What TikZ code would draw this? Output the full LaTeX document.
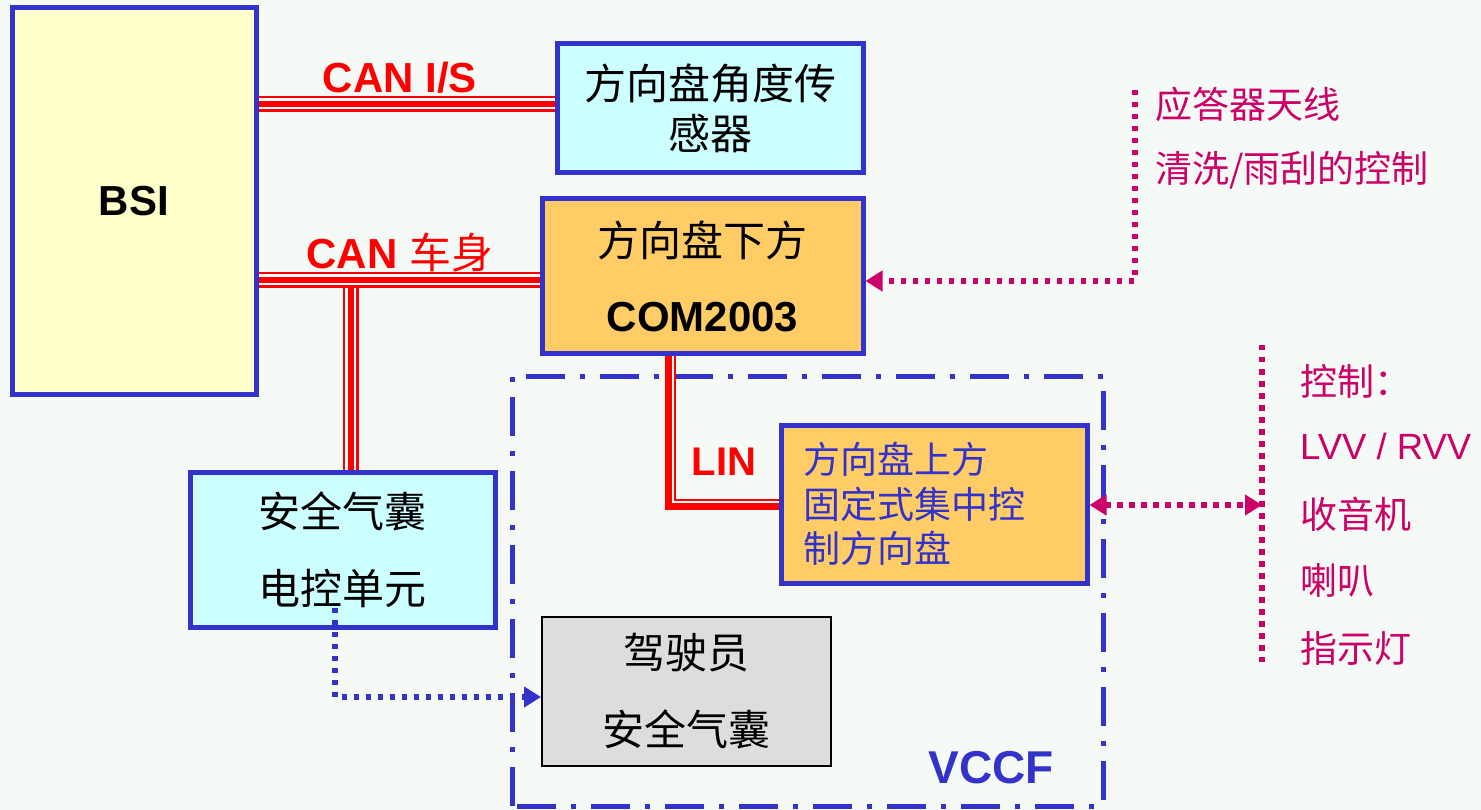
\documentclass[tikz,border=0pt]{standalone}
\usepackage{fontspec}
\setmainfont{Liberation Sans}
\newfontfamily\cjk{Noto Sans CJK SC}
\usetikzlibrary{arrows.meta}
\definecolor{bgc}{HTML}{F6FAF7}
\definecolor{blu}{HTML}{3333CC}
\definecolor{yelc}{HTML}{FFFFCC}
\definecolor{cyc}{HTML}{CCFFFF}
\definecolor{orc}{HTML}{FFCC66}
\definecolor{gryc}{HTML}{DDDDDD}
\definecolor{redc}{HTML}{FF0000}
\definecolor{magc}{HTML}{CC0066}
\newcommand\tribus[1]{\draw[redc,line width=16pt] #1; \draw[white,line width=11pt] #1; \draw[redc,line width=6pt] #1;}
\tikzset{
  boxb/.style={draw=blu, line width=5pt, inner sep=0pt, align=center},
  cjkbig/.style={font=\cjk\fontsize{42}{50}\selectfont},
  magdot/.style={magc, line width=5.5pt, dash pattern=on 5.5pt off 6.5pt},
  bludot/.style={blu, line width=5.5pt, dash pattern=on 5.5pt off 6.5pt},
  tip/.style={-{Triangle[length=17pt,width=20pt]}},
  tips/.style={{Triangle[length=17pt,width=20pt]}-{Triangle[length=17pt,width=20pt]}},
  lbl/.style={anchor=west, magc, inner sep=0pt, font=\cjk\fontsize{37}{40}\selectfont},
}
\begin{document}
\begin{tikzpicture}[x=1pt,y=-1pt]
\fill[bgc] (0,0) rectangle (1481,810);
\useasboundingbox (0,0) rectangle (1481,810);

% boxes
\node[boxb, fill=yelc, minimum width=244, minimum height=386, font=\bfseries\fontsize{42}{50}\selectfont] (bsi) at (134,201) {BSI};
\node[boxb, fill=cyc, minimum width=306, minimum height=129, cjkbig] (sensor) at (710,108.5) {\raisebox{-3pt}{方向盘角度传}\\\raisebox{-3pt}{感器}};
\node[boxb, fill=orc, minimum width=321, minimum height=155, font=\cjk\fontsize{42}{75}\selectfont] (com) at (702.5,276.5) {方向盘下方\\{\rmfamily\bfseries COM2003}};
\node[boxb, fill=cyc, minimum width=305, minimum height=155, font=\cjk\fontsize{42}{77}\selectfont] (ecu) at (342.5,549.5) {安全气囊\\电控单元};
\node[draw=black, line width=2pt, fill=gryc, inner sep=0pt, align=center, minimum width=289, minimum height=149, font=\cjk\fontsize{42}{77}\selectfont] (drv) at (686.5,691.5) {驾驶员\\安全气囊};
\node[boxb, fill=orc, minimum width=306, minimum height=158, inner xsep=0pt, text width=262, align=left, text=blu, font=\cjk\fontsize{37}{44.5}\selectfont] (upper) at (934,504) {方向盘上方\\固定式集中控\\制方向盘};

% VCCF region
\draw[blu, line width=5pt, dash pattern=on 39pt off 15pt on 5pt off 15pt] (512,806) -- (512,376) -- (1103,376) -- (1103,806) -- cycle;
\node[blu, font=\bfseries\fontsize{46}{50}\selectfont] (vccf) at (991,768) {VCCF};

% CAN buses
\coordinate (canis) at (0,104);
\coordinate (canbody) at (0,280);
\coordinate (vbus) at (350.5,0);
\tribus{(vbus |- canbody) -- (vbus |- ecu.north)}
\tribus{(bsi.east |- canis) -- (sensor.west |- canis)}
\tribus{(bsi.east |- canbody) -- (com.west |- canbody)}
\node[redc, font=\bfseries\fontsize{42}{50}\selectfont] (lcanis) at (400,78) {CAN I/S};
\node[redc, font=\fontsize{42}{50}\selectfont] (lcanbody) at (400,253) {\bfseries CAN {\cjk\mdseries 车身}};

% LIN
\coordinate (linA) at (668.5,506.5);
\coordinate (linB) at (675,500);
\draw[redc, line width=7pt] (com.south -| linA) -- (linA) -- (upper.west |- linA);
\draw[redc, line width=2pt] (com.south -| linB) -- (linB) -- (upper.west |- linB);
\node[redc, font=\bfseries\fontsize{40}{50}\selectfont] (llin) at (724,462) {LIN};

% magenta connectors
\coordinate (mtop) at (1135,90);
\coordinate (mcorner) at (1135,281);
\draw[magdot, tip] (mtop) -- (mcorner) -- (com.east |- mcorner);
\coordinate (rvtop) at (1262,345);
\coordinate (rvbot) at (1262,662);
\coordinate (rvmid) at (1262,505);
\draw[magdot] (rvtop) -- (rvbot);
\draw[magdot, tips] (upper.east |- rvmid) -- (rvmid);

% blue dotted
\coordinate (bx) at (335,697);
\draw[bludot, tip] ([yshift=22pt]ecu.south -| bx) -- (bx) -- (drv.west |- bx);

% right texts
\node[lbl] (t1) at (1155,104) {应答器天线};
\node[lbl] (t2) at (1155,170) {清洗/雨刮的控制};
\node[lbl] (r1) at (1300,381) {控制：};
\node[lbl, font=\fontsize{36.5}{40}\selectfont] (r2) at (1300,446) {LVV / RVV};
\node[lbl] (r3) at (1300,514) {收音机};
\node[lbl] (r4) at (1300,580) {喇叭};
\node[lbl] (r5) at (1300,648) {指示灯};
\end{tikzpicture}
\end{document}
